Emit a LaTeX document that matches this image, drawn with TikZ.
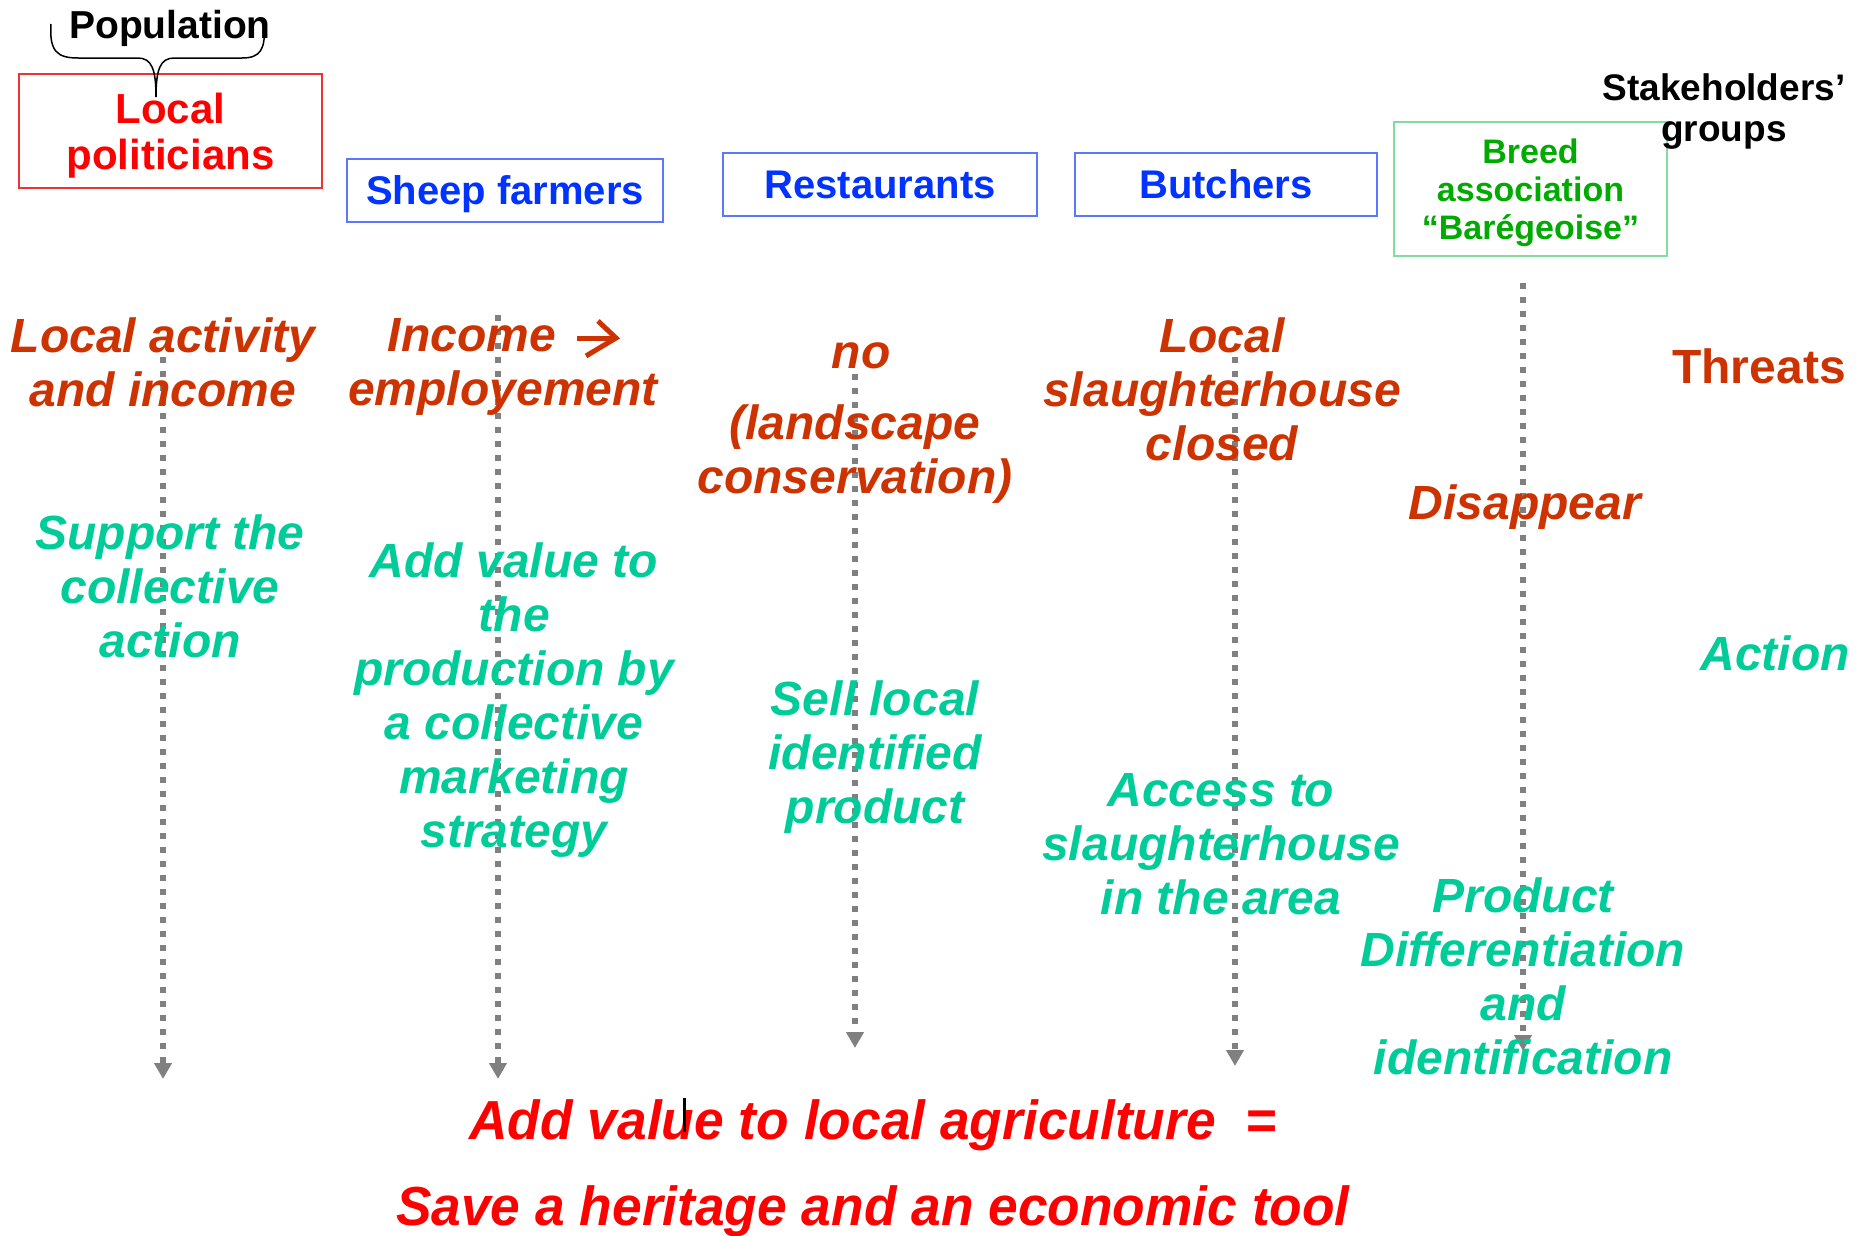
\documentclass[tikz,border=0pt]{standalone}
\usepackage{graphicx}
\usepackage{fontspec}
\setmainfont{Liberation Sans}
\usetikzlibrary{arrows.meta}
\definecolor{threat}{RGB}{204,51,0}
\definecolor{act}{RGB}{0,204,153}
\definecolor{bluetxt}{RGB}{0,51,255}
\definecolor{blueline}{RGB}{90,120,255}
\definecolor{breedtxt}{RGB}{0,170,0}
\definecolor{breedline}{RGB}{130,220,160}
\definecolor{redtxt}{RGB}{255,0,0}
\definecolor{redline}{RGB}{240,50,50}
\definecolor{dotgray}{RGB}{128,128,128}
\begin{document}
\begin{tikzpicture}[x=1pt,y=-1pt,
  threattxt/.style={text=threat,font=\fontsize{48}{54}\selectfont\bfseries\itshape,align=center,inner sep=0pt},
  actiontxt/.style={text=act,font=\fontsize{48}{54}\selectfont\bfseries\itshape,align=center,inner sep=0pt},
  groupbox/.style={draw=blueline,line width=1.5pt,text=bluetxt,font=\fontsize{40}{46}\selectfont\bfseries,inner sep=0pt,minimum height=63pt,text depth=0pt},
  labeltxt/.style={text=black,font=\fontsize{37}{41}\selectfont\bfseries,align=center,inner sep=0pt},
  bottomtxt/.style={text=redtxt,font=\fontsize{55}{60}\selectfont\bfseries\itshape,inner sep=0pt},
  dotarrow/.style={draw=dotgray,line width=6pt,dash pattern=on 6pt off 8pt,-{Triangle[width=17pt,length=16pt]}},
  bararrow/.style={draw=threat,line width=5pt,miter limit=10},
]
\useasboundingbox (0,0) rectangle (1864,1235);

% group boxes
\node[draw=redline,line width=1.5pt,text=redtxt,font=\fontsize{42}{46}\selectfont\bfseries,align=center,inner sep=0pt,minimum width=303pt,minimum height=114pt,text depth=0pt] (pol) at (170.5,131) {Local\\politicians};
\node[groupbox,minimum width=316pt] (sheep) at (505,190.5) {Sheep farmers};
\node[groupbox,minimum width=314pt] (rest) at (880,184.5) {Restaurants};
\node[groupbox,minimum width=302pt] (butch) at (1226,184.5) {Butchers};
\node[draw=breedline,line width=1.5pt,text=breedtxt,font=\fontsize{34}{38}\selectfont\bfseries,align=center,inner sep=0pt,minimum width=273pt,minimum height=134pt,text depth=0pt] (breed) at (1530.5,189) {Breed\\association\\“Barégeoise”};

% labels
\node[labeltxt,font=\fontsize{39}{41}\selectfont\bfseries] (popu) at (170,28) {Population};
\node[labeltxt] (stake) at (1724,112) {Stakeholders’\\groups};

% brace
\coordinate (brL) at (51,24);
\coordinate (brR) at (264,24);
\coordinate (brT) at (156,97);
\draw[line width=1.5pt] (brL) .. controls (49,52) and (58,58) .. (78,58) -- (138,58) .. controls (152,58) and (156,70) .. (brT)
  .. controls (156,70) and (160,58) .. (174,58) -- (242,58) .. controls (260,58) and (266,50) .. (brR);

% dotted arrows
\coordinate (a1s) at (163,357);  \coordinate (a1e) at (163,1079);
\coordinate (a2s) at (498,315);  \coordinate (a2e) at (498,1079);
\coordinate (a3s) at (855,374);  \coordinate (a3e) at (855,1048);
\coordinate (a4s) at (1235,357); \coordinate (a4e) at (1235,1066);
\coordinate (a5s) at (1523,283); \coordinate (a5e) at (1523,1051);
\draw[dotarrow] (a1s) -- (a1e);
\draw[dotarrow] (a2s) -- (a2e);
\draw[dotarrow] (a3s) -- (a3e);
\draw[dotarrow] (a4s) -- (a4e);
\draw[dotarrow] (a5s) -- (a5e);

% threats
\node[threattxt] (t1) at (163,362) {Local activity\\and income};
\node[threattxt] (t2) at (503,367) {Income\makebox[62pt]{}\\employement};
\coordinate (ar1) at (577,338);
\coordinate (ar2) at (613,338);
\coordinate (arT) at (598,321);
\coordinate (arP) at (616,338);
\coordinate (arB) at (586,356);
\draw[bararrow] (ar1) -- (ar2);
\draw[bararrow] (arT) -- (arP) -- (arB);
\node[threattxt] (t3a) at (861,356) {no};
\node[threattxt] (t3b) at (855,454) {(landscape\\conservation)};
\node[threattxt] (t4) at (1222,389) {Local\\slaughterhouse\\closed};
\node[threattxt] (t5) at (1525,507) {Disappear};
\node[text=threat,font=\fontsize{48}{54}\selectfont\bfseries,inner sep=0pt] (threats) at (1759,366) {Threats};

% actions
\node[actiontxt] (c1) at (170,586) {Support the\\collective\\action};
\node[actiontxt] (c2) at (514,700) {Add value to\\the\\production by\\a collective\\marketing\\strategy};
\node[actiontxt] (c3) at (875,757) {Sell local\\identified\\product};
\node[actiontxt] (c4) at (1221,844) {Access to\\slaughterhouse\\in the area};
\node[actiontxt] (c5) at (1523,976) {Product\\Differentiation\\and\\identification};
\node[actiontxt] (action) at (1775,653) {Action};

% bottom
\node[bottomtxt] (b1) at (873,1125) {\scalebox{0.969}[1]{Add value to local agriculture \ =}};
\node[bottomtxt] (b2) at (873,1211) {\scalebox{0.969}[1]{Save a heritage and an economic tool}};

% cursor mark
\coordinate (cu1) at (684,1098);
\coordinate (cu2) at (684,1132);
\draw[line width=3pt] (cu1) -- (cu2);
\end{tikzpicture}
\end{document}
